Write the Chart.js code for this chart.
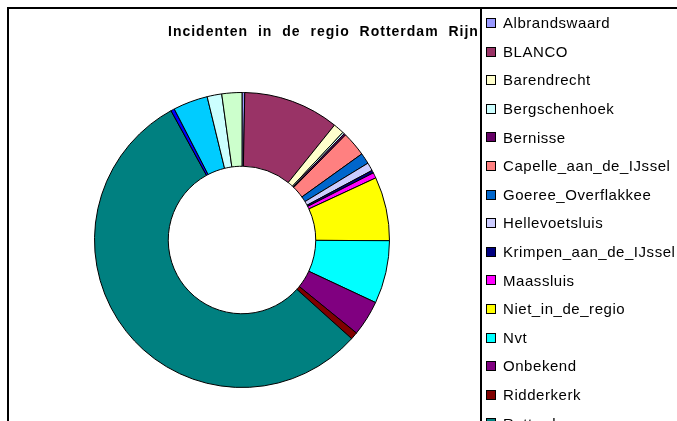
<!DOCTYPE html>
<html>
<head>
<meta charset="utf-8">
<script src="https://cdn.jsdelivr.net/npm/chart.js@4/dist/chart.umd.min.js"></script>
<style>
  body { margin: 0; background: #fff; }
  canvas { display: block; }
</style>
</head>
<body>
<canvas id="incidentChart" width="677" height="421"></canvas>
<script>
const chartTitle = "Incidenten in de regio Rotterdam Rijnmond";

const regions = [
  "Albrandswaard", "BLANCO", "Barendrecht", "Bergschenhoek", "Bernisse",
  "Capelle_aan_de_IJssel", "Goeree_Overflakkee", "Hellevoetsluis",
  "Krimpen_aan_de_IJssel", "Maassluis", "Niet_in_de_regio", "Nvt",
  "Onbekend", "Ridderkerk", "Rotterdam", "Schiedam", "Spijkenisse",
  "Vlaardingen", "Westvoorne"
];

const incidents = [
  3, 105, 12, 2, 2, 27, 12, 9, 3, 6, 70, 69, 39, 8, 554, 4, 38, 16, 22
];

// old Excel series palette
const sliceColors = [
  "#9999FF", "#993366", "#FFFFCC", "#CCFFFF", "#660066", "#FF8080",
  "#0066CC", "#CCCCFF", "#000080", "#FF00FF", "#FFFF00", "#00FFFF",
  "#800080", "#800000", "#008080", "#0000FF", "#00CCFF", "#CCFFFF",
  "#CCFFCC"
];

// frame, title and legend the way the spreadsheet drew them
const excelFrame = {
  id: "excelFrame",
  afterDraw(chart) {
    const ctx = chart.ctx;
    const legendX = 481;

    // title, cut off by the legend box
    ctx.save();
    ctx.beginPath();
    ctx.rect(0, 0, legendX, chart.height);
    ctx.clip();
    ctx.fillStyle = "#000";
    ctx.font = 'bold 14px "Liberation Sans", Arial, sans-serif';
    ctx.letterSpacing = "1px";
    ctx.wordSpacing = "5px";
    ctx.textBaseline = "alphabetic";
    ctx.fillText(chartTitle, 168, 36);
    ctx.restore();

    // outer frame
    ctx.save();
    ctx.strokeStyle = "#000";
    ctx.lineWidth = 2;
    ctx.beginPath();
    ctx.moveTo(8, chart.height + 5);
    ctx.lineTo(8, 8);
    ctx.lineTo(chart.width + 5, 8);
    ctx.stroke();

    // legend box
    ctx.fillStyle = "#fff";
    ctx.fillRect(legendX + 1, 9, chart.width, chart.height);
    ctx.lineWidth = 2;
    ctx.beginPath();
    ctx.moveTo(legendX, 8);
    ctx.lineTo(legendX, chart.height + 5);
    ctx.stroke();

    // legend items
    ctx.font = '15px "Liberation Sans", Arial, sans-serif';
    ctx.letterSpacing = "0.55px";
    ctx.textBaseline = "middle";
    ctx.lineWidth = 1;
    chart.data.labels.forEach((name, i) => {
      const y = 23 + i * 28.6;
      ctx.fillStyle = sliceColors[i];
      ctx.fillRect(487, Math.round(y) - 4, 8, 8);
      ctx.strokeStyle = "#000";
      ctx.strokeRect(486.5, Math.round(y) - 4.5, 9, 9);
      ctx.fillStyle = "#000";
      ctx.fillText(name, 503, y + 1);
    });
    ctx.restore();
  }
};

const ctx = document.getElementById("incidentChart").getContext("2d");
const incidentChart = new Chart(ctx, {
  type: "doughnut",
  data: {
    labels: regions,
    datasets: [
      {
        label: chartTitle,
        data: incidents,
        backgroundColor: sliceColors,
        borderColor: "#000",
        borderWidth: 1,
      },
    ],
  },
  options: {
    responsive: false,
    animation: false,
    cutout: "50%",
    layout: {
      padding: { left: 93, right: 286, top: 92, bottom: 33 },
    },
    plugins: {
      legend: { display: false },
      title: { display: false },
      tooltip: { enabled: false },
    },
  },
  plugins: [excelFrame],
});
</script>
</body>
</html>
